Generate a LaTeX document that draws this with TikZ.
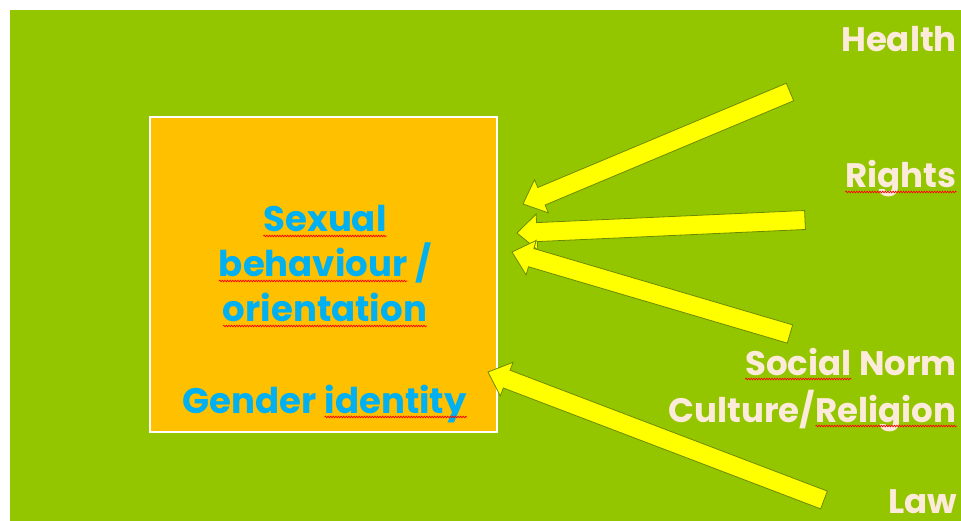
\documentclass[tikz,border=0pt]{standalone}
\usepackage{fontspec}
\setmainfont{Poppins}
\usetikzlibrary{calc,decorations.pathmorphing}
\definecolor{bggreen}{HTML}{94C600}
\definecolor{boxorange}{HTML}{FFC000}
\definecolor{txtblue}{HTML}{00B0F0}
\definecolor{cream}{HTML}{FCEBDA}
\definecolor{arrowyellow}{HTML}{FFFF00}
\definecolor{arrowedge}{HTML}{6A8A00}
\newcommand\squig[1]{\tikz[baseline=(sw.base)]{\node[inner sep=0pt,outer sep=0pt] (sw) {#1};\draw[red,line width=0.7pt,decorate,decoration={snake,amplitude=0.8pt,segment length=2.6pt}] ([yshift=-4pt]sw.base west) -- ([yshift=-4pt]sw.base east);}}
\newcommand\blockarrow[2]{%
  \coordinate (#2base) at ($(#2)!20pt!(#1)$);
  \draw[blockarrowstyle] ($(#1)!9.5pt!90:(#2)$) -- ($(#2base)!9.5pt!90:(#2)$) -- ($(#2base)!18pt!90:(#2)$) -- (#2) -- ($(#2base)!18pt!-90:(#2)$) -- ($(#2base)!9.5pt!-90:(#2)$) -- ($(#1)!9.5pt!-90:(#2)$) -- cycle;}
\tikzset{
  blockarrowstyle/.style={fill=arrowyellow,draw=arrowedge,line width=0.8pt,line join=miter},
  sidelabel/.style={text=cream,font=\fontsize{34}{40}\selectfont\bfseries,inner sep=0pt,anchor=base east},
  boxtext/.style={text=txtblue,font=\fontsize{35.5}{40}\selectfont\bfseries,inner sep=0pt,anchor=base},
}
\begin{document}
\begin{tikzpicture}[x=1pt,y=-1pt]
\useasboundingbox (0,0) rectangle (961,521);
\fill[white] (0,0) rectangle (961,521);
\fill[bggreen] (10,10) rectangle (961,521);
% central box
\node[draw=white,line width=2pt,fill=boxorange,minimum width=347pt,minimum height=315pt,inner sep=0pt] (box) at (323.5,274.5) {};
\node[boxtext] (l1) at (325,232) {\squig{Sexual}};
\node[boxtext] (l2) at (325,277) {\squig{behaviour} /};
\node[boxtext] (l3) at (325,322) {\squig{orientation}};
\node[boxtext] (l4) at (325,413) {Gender \squig{identity}};
% side labels
\node[sidelabel] (health) at (957,52) {Health};
\node[sidelabel] (rights) at (957,188) {\squig{Rights}};
\node[sidelabel] (social) at (957,375) {\squig{Social} Norm};
\node[sidelabel] (culture) at (957,422) {Culture/\squig{Religion}};
\node[sidelabel] (law) at (957,513) {Law};
% arrow end points
\coordinate (tA) at (790,92);  \coordinate (pA) at (523,204);
\coordinate (tB) at (805,220); \coordinate (pB) at (517,233);
\coordinate (tC) at (790,334); \coordinate (pC) at (512,252);
\coordinate (tD) at (824,500); \coordinate (pD) at (488,372);
\blockarrow{tA}{pA}
\blockarrow{tB}{pB}
\blockarrow{tC}{pC}
\blockarrow{tD}{pD}
\end{tikzpicture}
\end{document}
